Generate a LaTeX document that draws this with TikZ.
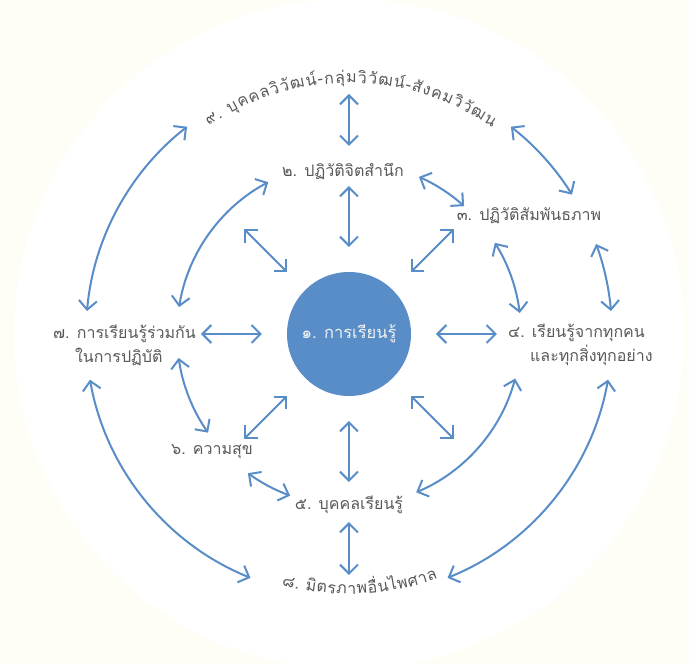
\documentclass[tikz,border=0pt]{standalone}
\usepackage{fontspec}
\setmainfont[Script=Thai]{Loma}
\usetikzlibrary{arrows.meta,decorations.text}
\definecolor{cream}{RGB}{255,254,246}
\definecolor{tblue}{RGB}{88,141,200}
\definecolor{tgray}{RGB}{89,89,89}
\definecolor{cwhite}{RGB}{242,242,242}
\tikzset{
  arr/.style={draw=tblue, line width=2pt, {Straight Barb[length=9pt,width=18pt]}-{Straight Barb[length=9pt,width=18pt]}},
  lbl/.style={text=tgray, font=\fontsize{16}{24}\selectfont, inner sep=0pt},
}
\begin{document}
\begin{tikzpicture}[x=1pt,y=1pt]
\useasboundingbox (-349,-330) rectangle (340,334);
\fill[cream] (-349,-330) rectangle (340,334);
\begin{scope}
\clip (-349,-330) rectangle (340,334);
\fill[white] (0,0) circle[radius=335];
\end{scope}

% centre
\node[circle, fill=tblue, minimum size=124pt, inner sep=0pt, text=cwhite, font=\fontsize{16.5}{24}\selectfont] (c1) at (0,0) {๑. การเรียนรู้};

% labels
\node[lbl] (n2) at (-6,162) {๒. ปฏิวัติจิตสำนึก};
\node[lbl] (n3) at (180,118) {๓. ปฏิวัติสัมพันธภาพ};
\node[lbl, anchor=west, align=left] (n4) at (159,-11) {๔. เรียนรู้จากทุกคน\\\phantom{๔.\ }และทุกสิ่งทุกอย่าง};
\node[lbl] (n5) at (0,-171) {๕. บุคคลเรียนรู้};
\node[lbl] (n6) at (-137,-118) {๖. ความสุข};
\node[lbl, anchor=west, align=left] (n7) at (-296,-11) {๗. การเรียนรู้ร่วมกัน\\\phantom{๗.\ }ในการปฏิบัติ};

% curved labels
\path[decorate, decoration={text along path, text align={fit to path},
  text={|\color{tgray}\fontsize{16}{18}\selectfont|{๙}{.} {บุ}{ค}{ค}{ล}{วิ}{วั}{ฒ}{น์}{-}{ก}{ลุ่}{ม}{วิ}{วั}{ฒ}{น์}{-}{สั}{ง}{ค}{ม}{วิ}{วั}{ฒ}{น์}}}]
  (124:251) arc[start angle=124, end angle=55, radius=251];
\path[decorate, decoration={text along path, text align={fit to path},
  text={|\color{tgray}\fontsize{16}{18}\selectfont|{๘}{.} {มิ}{ต}{ร}{ภ}{า}{พ}{อื่}{น}{ไ}{พ}{ศ}{า}{ล}}}]
  (255:260) arc[start angle=255, end angle=290, radius=260];

% radial arrows
\foreach \a in {0,45,...,315}{
  \coordinate (ri\a) at (\a:87);
  \coordinate (ro\a) at (\a:148);
  \draw[arr] (ri\a) -- (ro\a);
}
\coordinate (t1) at (0,188); \coordinate (t2) at (0,240);
\draw[arr] (t1) -- (t2);
\coordinate (b1) at (0,-188); \coordinate (b2) at (0,-241);
\draw[arr] (b1) -- (b2);

% outer ring arrows
\coordinate (oA) at (128:263); \draw[arr] (oA) arc[start angle=128, end angle=175, radius=263];
\coordinate (oB) at (190:263); \draw[arr] (oB) arc[start angle=190, end angle=248, radius=263];
\coordinate (oC) at (292:263); \draw[arr] (oC) arc[start angle=292, end angle=350, radius=263];
\coordinate (oD) at (5:263);   \draw[arr] (oD) arc[start angle=5, end angle=20, radius=263];
\coordinate (oE) at (32:263);  \draw[arr] (oE) arc[start angle=32, end angle=52, radius=263];

% inner ring arrows
\coordinate (iA) at (118:172); \draw[arr] (iA) arc[start angle=118, end angle=171, radius=172];
\coordinate (iB) at (48:172);  \draw[arr] (iB) arc[start angle=48, end angle=66, radius=172];
\coordinate (iC) at (7:172);   \draw[arr] (iC) arc[start angle=7, end angle=32, radius=172];
\coordinate (iD) at (-67:172); \draw[arr] (iD) arc[start angle=-67, end angle=-15, radius=172];
\coordinate (iE) at (234:172); \draw[arr] (iE) arc[start angle=234, end angle=250, radius=172];
\coordinate (iF) at (188:172); \draw[arr] (iF) arc[start angle=188, end angle=215, radius=172];
\end{tikzpicture}
\end{document}
